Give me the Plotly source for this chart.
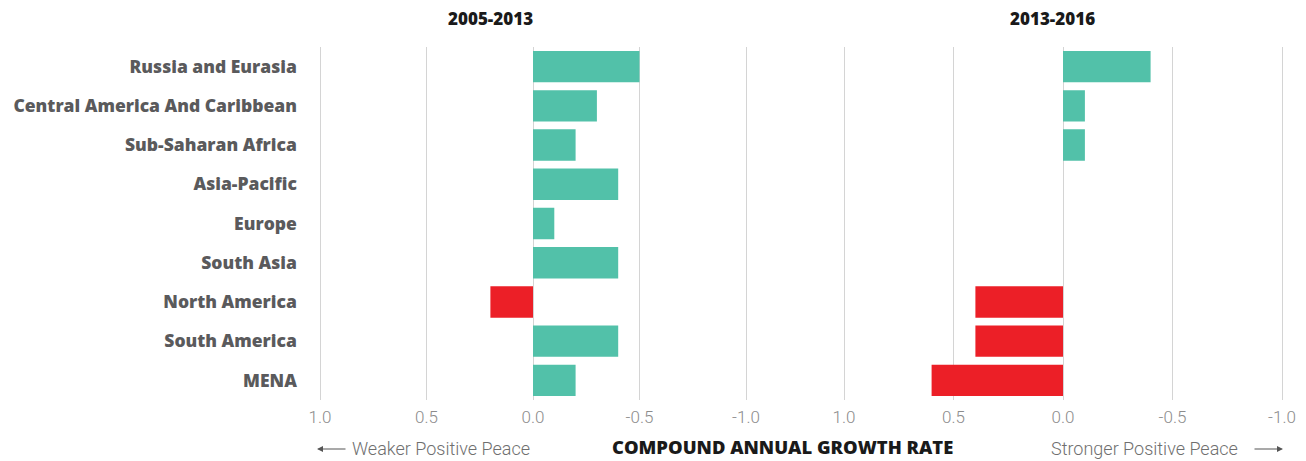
import plotly.graph_objects as go

regions = ["Russia and Eurasia", "Central America And Caribbean", "Sub-Saharan Africa",
           "Asia-Pacific", "Europe", "South Asia", "North America", "South America", "MENA"]
cagr_2005_2013 = [-0.5, -0.3, -0.2, -0.4, -0.1, -0.4, 0.2, -0.4, -0.2]
cagr_2013_2016 = [-0.4, -0.1, -0.1, 0.0, 0.0, 0.0, 0.4, 0.4, 0.6]
period_titles = ["2005-2013", "2013-2016"]
tick_vals = [1.0, 0.5, 0.0, -0.5, -1.0]
tick_text = ["1.0", "0.5", "0.0", "-0.5", "-1.0"]

GREEN = "#52C1A9"
RED = "#EC1F27"
OFF = 8  # page body margin
W, H = 1306 - OFF, 461 - OFF
TOP, BOTTOM = 47 - OFF, 400 - OFF

def px(p):
    return (p - OFF) / W

def py(p):
    p = p - OFF
    return (BOTTOM - p) / (BOTTOM - TOP)

def colors(vals):
    return [RED if v > 0 else GREEN for v in vals]

fig = go.Figure()
fig.add_trace(go.Bar(y=regions, x=cagr_2005_2013, orientation="h",
                     marker=dict(color=colors(cagr_2005_2013), line=dict(width=0)),
                     xaxis="x", yaxis="y", showlegend=False, hoverinfo="x+y"))
fig.add_trace(go.Bar(y=regions, x=cagr_2013_2016, orientation="h",
                     marker=dict(color=colors(cagr_2013_2016), line=dict(width=0)),
                     xaxis="x2", yaxis="y2", showlegend=False, hoverinfo="x+y"))

pad = 0.01
xcommon = dict(range=[1.0 + pad, -1.0 - pad], tickvals=tick_vals, ticktext=tick_text,
               showgrid=True, gridcolor="#d4d4d4", gridwidth=1, zeroline=False,
               showline=False, ticks="", automargin=False, ticklabelstandoff=5,
               tickfont=dict(family="Roboto", size=17, color="#8c8c8c", weight=300))

def dom(p0, p1):
    per = (p1 - p0) / 2.0
    return [px(p0 - per * pad), px(p1 + per * pad)]

fig.update_layout(
    width=W, height=H,
    margin=dict(l=0, r=0, t=TOP, b=H - BOTTOM, autoexpand=False),
    plot_bgcolor="white", paper_bgcolor="white",
    bargap=0.2,
    xaxis=dict(domain=dom(320, 746), anchor="y", **xcommon),
    xaxis2=dict(domain=dom(844, 1282), anchor="y2", **xcommon),
    yaxis=dict(domain=[0, 1], anchor="x", categoryorder="array", categoryarray=regions,
               autorange="reversed", ticks="", showgrid=False, zeroline=False,
               ticklabelstandoff=20, automargin=False,
               tickfont=dict(family="Open Sans", size=17.5, color="#5a5a5c", weight=800)),
    yaxis2=dict(domain=[0, 1], anchor="x2", categoryorder="array", categoryarray=regions,
                autorange="reversed", showticklabels=False, ticks="", showgrid=False,
                zeroline=False, automargin=False),
)

ann = []
for t, xp in zip(period_titles, [490, 1052]):
    ann.append(dict(text=t, x=px(xp), y=py(19), xref="paper", yref="paper",
                    xanchor="center", yanchor="middle", showarrow=False,
                    font=dict(family="Open Sans", size=17, color="#1a1a1a", weight=800)))
ann.append(dict(text="COMPOUND ANNUAL GROWTH RATE", x=px(783), y=py(446),
                xref="paper", yref="paper", xanchor="center", yanchor="middle",
                showarrow=False, font=dict(family="Open Sans", size=18.4, color="#1a1a1a", weight=800)))
ann.append(dict(text="Weaker Positive Peace", x=px(350), y=py(449), xref="paper", yref="paper",
                xanchor="left", yanchor="middle", showarrow=False,
                font=dict(family="Roboto", size=18, color="#6f6f6f", weight=300)))
ann.append(dict(text="Stronger Positive Peace", x=px(1240), y=py(449), xref="paper", yref="paper",
                xanchor="right", yanchor="middle", showarrow=False,
                font=dict(family="Roboto", size=18, color="#6f6f6f", weight=300)))
# arrows
ann.append(dict(text="", x=px(317), y=py(449), xref="paper", yref="paper",
                ax=30, ay=0, axref="pixel", ayref="pixel", showarrow=True,
                arrowhead=2, arrowsize=1, arrowwidth=1.2, arrowcolor="#555555"))
ann.append(dict(text="", x=px(1283), y=py(449), xref="paper", yref="paper",
                ax=-30, ay=0, axref="pixel", ayref="pixel", showarrow=True,
                arrowhead=2, arrowsize=1, arrowwidth=1.2, arrowcolor="#555555"))
fig.update_layout(annotations=ann)

fig.write_html("out.html")
